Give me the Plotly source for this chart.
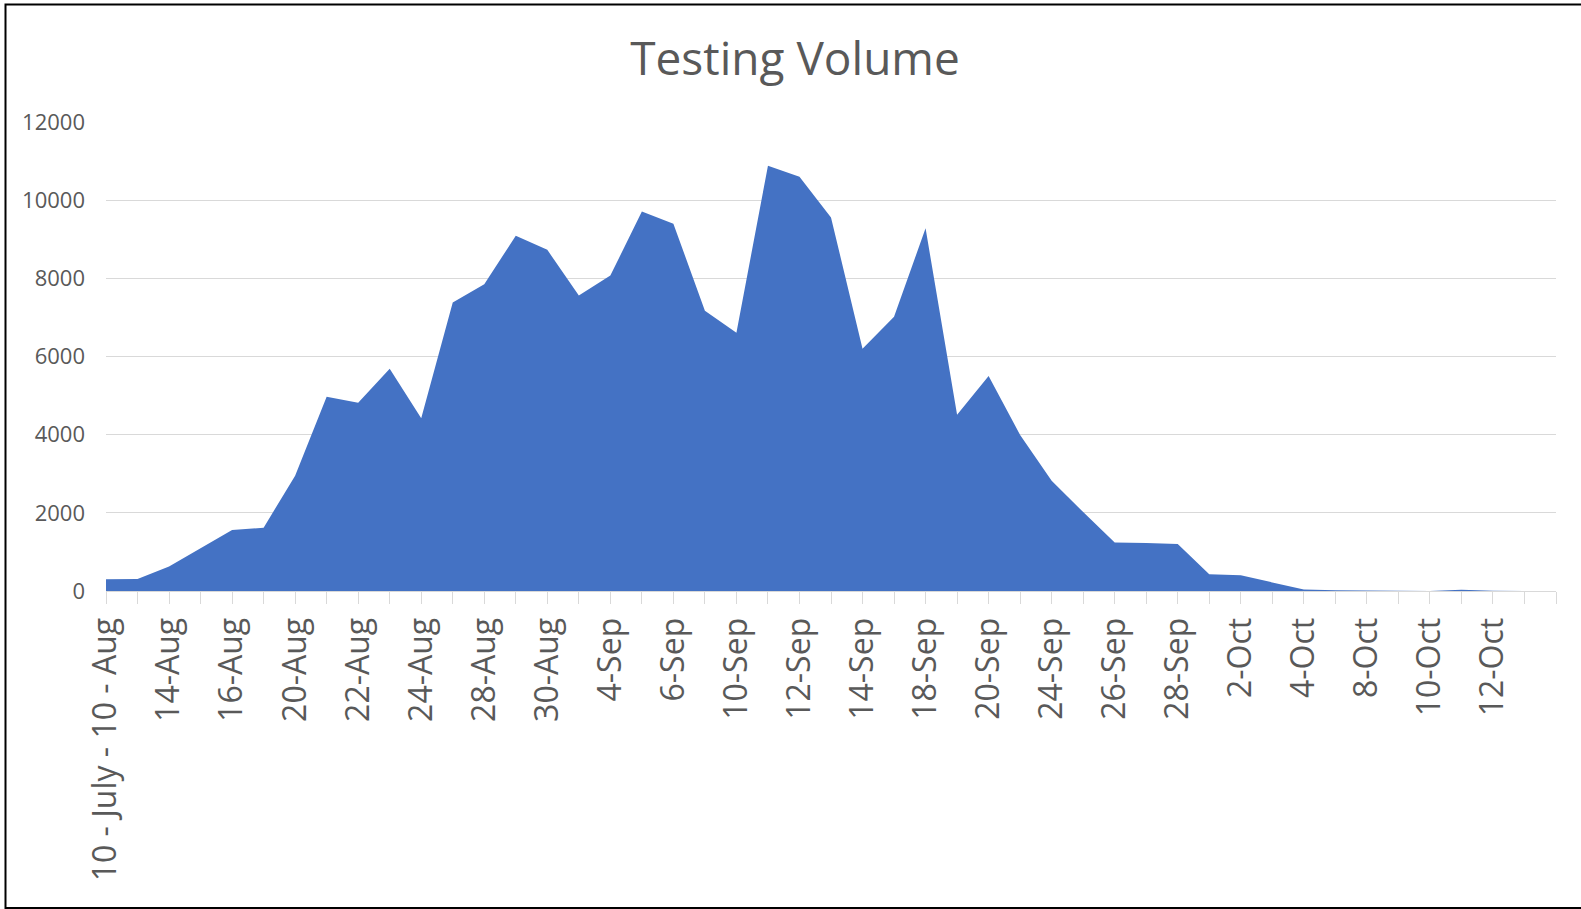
import plotly.graph_objects as go

# Category order (index) and the labels Excel shows on every other category
tick_labels = ["10 - July - 10 - Aug", "14-Aug", "16-Aug", "20-Aug", "22-Aug", "24-Aug",
               "28-Aug", "30-Aug", "4-Sep", "6-Sep", "10-Sep", "12-Sep", "14-Sep",
               "18-Sep", "20-Sep", "24-Sep", "26-Sep", "28-Sep", "2-Oct", "4-Oct",
               "8-Oct", "10-Oct", "12-Oct"]

tests = [300, 310, 630, 1090, 1560, 1620, 2950, 4970, 4820, 5690,
         4420, 7380, 7850, 9090, 8730, 7560, 8070, 9710, 9400, 7170,
         6610, 10880, 10600, 9560, 6200, 7020, 9280, 4510, 5500, 3990,
         2820, 2020, 1240, 1230, 1200, 430, 400, 220, 40, 20,
         10, 5, 0, 35, 5, 0, 0]

y_ticks = [0, 2000, 4000, 6000, 8000, 10000, 12000]

W, H = 1581, 909
L, R, T, B = 106, 25, 122, 318
pw, ph = W - L - R, H - T - B

idx = list(range(len(tests)))
tickvals = idx[::2][:len(tick_labels)]

GRID = "#d9d9d9"
TXT = "#595959"
FONT = "Open Sans"

fig = go.Figure()
fig.add_trace(go.Scatter(
    x=idx, y=tests, mode="lines", fill="tozeroy",
    line=dict(width=0, color="#4472C4"), fillcolor="#4472C4",
    hoverinfo="x+y", showlegend=False))

fig.update_layout(
    width=W, height=H,
    margin=dict(l=L, r=R, t=T, b=B, pad=0),
    paper_bgcolor="white", plot_bgcolor="white",
    font=dict(family=FONT, color=TXT),
    title=dict(text="Testing Volume", x=795 / W, xanchor="center",
               xref="container", yref="container", y=1 - 59 / H, yanchor="middle",
               font=dict(size=46, color=TXT, family=FONT)),
    xaxis=dict(range=[0, len(tests) - 1], tickmode="array", tickvals=tickvals,
               ticktext=tick_labels, tickangle=-90, ticks="outside", ticklen=12,
               tickcolor=GRID, tickwidth=1, showline=True, linecolor=GRID, linewidth=1,
               showgrid=False, zeroline=False, ticklabelstandoff=1,
               tickfont=dict(size=32, color=TXT, family=FONT),
               minor=dict(ticks="outside", ticklen=12, tickcolor=GRID, tickwidth=1,
                          tickmode="linear", tick0=0, dtick=1, showgrid=False)),
    yaxis=dict(range=[0, 12001], tickmode="array", tickvals=y_ticks,
               ticktext=[str(v) for v in y_ticks], showgrid=True, gridcolor=GRID,
               gridwidth=1.3, zeroline=False, showline=False, ticks="",
               ticklabelstandoff=20,
               tickfont=dict(size=22, color=TXT, family=FONT)),
    shapes=[dict(type="rect", xref="paper", yref="paper",
                 x0=(5.5 - L) / pw, x1=(W + 10 - L) / pw,
                 y0=(T + ph - 908) / ph, y1=(T + ph - 4.5) / ph,
                 line=dict(color="black", width=2), fillcolor="rgba(0,0,0,0)", layer="above")],
)

fig.write_html("out.html", config={"displayModeBar": False},
               post_script="document.body.style.margin='0';document.body.style.overflow='hidden';")
